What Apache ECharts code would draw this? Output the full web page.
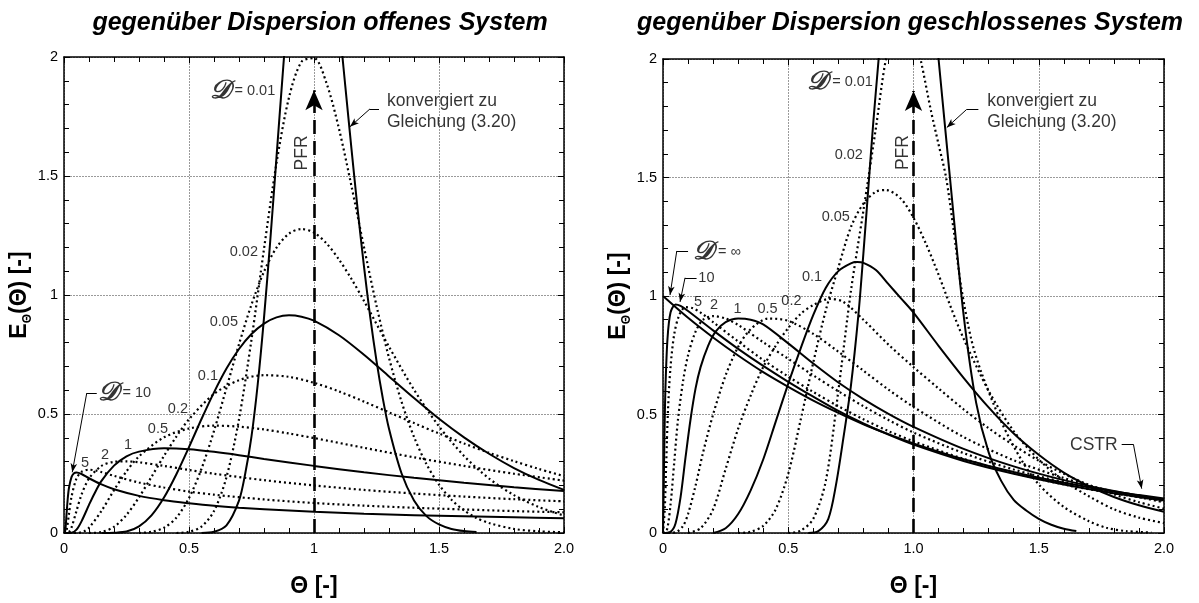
<!DOCTYPE html>
<html><head><meta charset="utf-8">
<script src="https://cdn.jsdelivr.net/npm/echarts@6/dist/echarts.min.js"></script>
<style>html,body{margin:0;padding:0;background:#fff}#c{width:1199px;height:603px}</style>
</head><body><div id="c"></div>
<script>
// ---------- tick labels ----------
const xTickLabelsOpen = ['0', '0.5', '1', '1.5', '2.0'];
const xTickLabelsClosed = ['0', '0.5', '1.0', '1.5', '2.0'];
const yTickLabels = ['0', '0.5', '1', '1.5', '2'];

// ---------- open system curves [theta, E] ----------
const open_D10 = [[0,0],[0.005,0.009],[0.01,0.077],[0.015,0.145],[0.02,0.19],[0.03,0.235],[0.04,0.251],[0.05,0.254],[0.07,0.248],[0.1,0.230],[0.15,0.204],[0.2,0.184],[0.3,0.156],[0.4,0.138],[0.5,0.125],[0.6,0.114],[0.7,0.106],[0.8,0.100],[1.0,0.089],[1.2,0.081],[1.4,0.075],[1.6,0.070],[1.8,0.066],[2.0,0.062]];
const open_D5 = [[0,0],[0.005,0],[0.01,0.009],[0.02,0.081],[0.03,0.152],[0.05,0.229],[0.07,0.257],[0.1,0.266],[0.13,0.262],[0.15,0.256],[0.2,0.240],[0.3,0.212],[0.4,0.191],[0.5,0.174],[0.6,0.161],[0.8,0.141],[1.0,0.126],[1.2,0.115],[1.4,0.106],[1.6,0.099],[1.8,0.092],[2.0,0.087]];
const open_D2 = [[0,0],[0.01,0],[0.02,0.004],[0.03,0.023],[0.05,0.093],[0.07,0.161],[0.1,0.229],[0.15,0.282],[0.2,0.299],[0.25,0.301],[0.3,0.297],[0.4,0.282],[0.5,0.265],[0.6,0.249],[0.8,0.222],[1.0,0.200],[1.2,0.181],[1.4,0.166],[1.6,0.153],[1.8,0.142],[2.0,0.133]];
const open_D1 = [[0,0],[0.03,0.001],[0.05,0.014],[0.07,0.049],[0.1,0.118],[0.12,0.162],[0.15,0.219],[0.2,0.283],[0.25,0.322],[0.3,0.342],[0.4,0.356],[0.5,0.352],[0.6,0.341],[0.7,0.327],[0.8,0.311],[1.0,0.282],[1.2,0.255],[1.4,0.232],[1.6,0.211],[1.8,0.192],[2.0,0.176]];
const open_D05 = [[0,0],[0.05,0],[0.08,0.007],[0.1,0.022],[0.15,0.093],[0.2,0.180],[0.25,0.259],[0.3,0.322],[0.4,0.402],[0.5,0.439],[0.6,0.451],[0.7,0.447],[0.8,0.435],[0.9,0.418],[1.0,0.399],[1.2,0.358],[1.4,0.318],[1.6,0.282],[1.8,0.249],[2.0,0.220]];
const open_D02 = [[0.1,0],[0.15,0.004],[0.2,0.026],[0.25,0.076],[0.3,0.150],[0.35,0.236],[0.4,0.324],[0.45,0.406],[0.5,0.478],[0.6,0.584],[0.7,0.642],[0.8,0.663],[0.9,0.656],[1.0,0.631],[1.1,0.595],[1.2,0.552],[1.3,0.507],[1.4,0.462],[1.5,0.418],[1.6,0.376],[1.7,0.337],[1.8,0.302],[1.9,0.269],[2.0,0.239]];
const open_D01 = [[0.15,0],[0.2,0.001],[0.25,0.006],[0.3,0.028],[0.35,0.074],[0.4,0.149],[0.45,0.248],[0.5,0.361],[0.55,0.479],[0.6,0.591],[0.65,0.691],[0.7,0.773],[0.75,0.836],[0.8,0.880],[0.85,0.906],[0.9,0.915],[0.95,0.909],[1.0,0.892],[1.1,0.831],[1.2,0.749],[1.3,0.658],[1.4,0.567],[1.5,0.480],[1.6,0.402],[1.7,0.333],[1.8,0.273],[1.9,0.223],[2.0,0.181]];
const open_D005 = [[0.3,0],[0.35,0.005],[0.4,0.022],[0.45,0.065],[0.5,0.147],[0.55,0.270],[0.6,0.429],[0.65,0.610],[0.7,0.793],[0.75,0.960],[0.8,1.098],[0.85,1.199],[0.9,1.258],[0.95,1.277],[1.0,1.262],[1.05,1.217],[1.1,1.149],[1.15,1.067],[1.2,0.975],[1.3,0.783],[1.4,0.602],[1.5,0.448],[1.6,0.324],[1.7,0.229],[1.8,0.159],[1.9,0.109],[2.0,0.073]];
const open_D002 = [[0.45,0],[0.5,0.005],[0.55,0.027],[0.6,0.092],[0.65,0.235],[0.7,0.478],[0.75,0.813],[0.8,1.194],[0.85,1.554],[0.9,1.830],[0.95,1.980],[1.0,1.995],[1.05,1.890],[1.1,1.698],[1.15,1.457],[1.2,1.201],[1.25,0.955],[1.3,0.736],[1.35,0.552],[1.4,0.404],[1.45,0.289],[1.5,0.203],[1.55,0.140],[1.6,0.095],[1.65,0.063],[1.7,0.042],[1.8,0.017],[1.9,0.007],[2.0,0.003]];
const open_D001 = [[0.55,0],[0.6,0.005],[0.65,0.032],[0.7,0.136],[0.725,0.25],[0.75,0.406],[0.775,0.626],[0.8,0.904],[0.825,1.228],[0.85,1.579],[0.875,1.93],[0.9,2.253],[0.95,2.71],[1.0,2.821],[1.05,2.593],[1.1,2.143],[1.125,1.880],[1.15,1.613],[1.175,1.356],[1.2,1.119],[1.225,0.907],[1.25,0.723],[1.275,0.567],[1.3,0.438],[1.35,0.251],[1.4,0.137],[1.45,0.071],[1.5,0.036],[1.55,0.017],[1.6,0.008],[1.65,0.004]];

// ---------- closed system curves [theta, E] ----------
const closed_Dinf = [[0,1.0],[0.1,0.908],[0.2,0.825],[0.3,0.749],[0.4,0.679],[0.5,0.617],[0.6,0.559],[0.7,0.507],[0.8,0.459],[0.9,0.417],[1.0,0.378],[1.1,0.343],[1.2,0.311],[1.3,0.283],[1.4,0.257],[1.5,0.233],[1.6,0.212],[1.7,0.193],[1.8,0.175],[1.9,0.16],[2.0,0.146]];
const closed_D10 = [[0,0],[0.003,0.2],[0.006,0.42],[0.01,0.62],[0.018,0.82],[0.03,0.93],[0.05,0.964],[0.07,0.958],[0.1,0.937],[0.2,0.855],[0.3,0.777],[0.4,0.705],[0.5,0.638],[0.6,0.575],[0.7,0.515],[0.8,0.462],[0.9,0.415],[1.0,0.373],[1.2,0.304],[1.4,0.25],[1.6,0.205],[1.8,0.168],[2.0,0.138]];
const closed_D5 = [[0,0],[0.007,0.1],[0.013,0.3],[0.02,0.52],[0.03,0.7],[0.045,0.84],[0.065,0.92],[0.09,0.953],[0.12,0.948],[0.15,0.93],[0.2,0.89],[0.3,0.808],[0.4,0.73],[0.5,0.66],[0.6,0.595],[0.7,0.535],[0.8,0.48],[0.9,0.43],[1.0,0.387],[1.2,0.313],[1.4,0.253],[1.6,0.205],[1.8,0.167],[2.0,0.137]];
const closed_D2 = [[0,0],[0.015,0.01],[0.03,0.12],[0.045,0.3],[0.06,0.48],[0.08,0.64],[0.1,0.75],[0.13,0.85],[0.16,0.9],[0.2,0.915],[0.25,0.905],[0.3,0.878],[0.4,0.805],[0.5,0.735],[0.6,0.665],[0.7,0.598],[0.8,0.535],[0.9,0.477],[1.0,0.424],[1.2,0.337],[1.4,0.268],[1.6,0.214],[1.8,0.171],[2.0,0.137]];
const closed_D1 = [[0,0],[0.03,0.005],[0.05,0.04],[0.07,0.15],[0.09,0.32],[0.11,0.48],[0.13,0.61],[0.15,0.7],[0.18,0.79],[0.21,0.85],[0.25,0.89],[0.3,0.905],[0.35,0.9],[0.4,0.88],[0.5,0.8],[0.6,0.715],[0.7,0.635],[0.8,0.565],[0.9,0.503],[1.0,0.448],[1.2,0.355],[1.4,0.281],[1.6,0.223],[1.8,0.177],[2.0,0.14]];
const closed_D05 = [[0,0],[0.05,0.003],[0.08,0.03],[0.1,0.08],[0.13,0.2],[0.16,0.34],[0.2,0.5],[0.25,0.665],[0.3,0.785],[0.35,0.86],[0.42,0.905],[0.5,0.895],[0.6,0.84],[0.7,0.765],[0.8,0.685],[0.9,0.605],[1.0,0.532],[1.2,0.405],[1.4,0.307],[1.6,0.232],[1.8,0.174],[2.0,0.13]];
const closed_D02 = [[0.1,0],[0.15,0.02],[0.2,0.1],[0.25,0.27],[0.3,0.44],[0.35,0.58],[0.4,0.7],[0.45,0.79],[0.5,0.865],[0.55,0.925],[0.6,0.962],[0.667,0.988],[0.72,0.975],[0.8,0.9],[0.9,0.795],[1.0,0.7],[1.1,0.61],[1.2,0.522],[1.3,0.442],[1.4,0.37],[1.5,0.305],[1.6,0.25],[1.7,0.203],[1.8,0.163],[1.9,0.13],[2.0,0.103]];
const closed_D01 = [[0.2,0],[0.25,0.02],[0.3,0.08],[0.35,0.18],[0.4,0.31],[0.45,0.47],[0.5,0.63],[0.55,0.78],[0.6,0.92],[0.65,1.035],[0.7,1.105],[0.75,1.138],[0.775,1.143],[0.8,1.14],[0.85,1.11],[0.9,1.05],[0.95,0.99],[1.0,0.93],[1.1,0.79],[1.2,0.655],[1.3,0.53],[1.4,0.42],[1.5,0.33],[1.6,0.255],[1.7,0.198],[1.8,0.152],[1.9,0.117],[2.0,0.09]];
const closed_D005 = [[0.3,0],[0.35,0.005],[0.4,0.03],[0.45,0.1],[0.5,0.25],[0.55,0.48],[0.6,0.72],[0.65,0.94],[0.7,1.12],[0.75,1.29],[0.8,1.39],[0.85,1.44],[0.89,1.447],[0.95,1.41],[1.0,1.33],[1.05,1.22],[1.1,1.09],[1.15,0.95],[1.2,0.82],[1.3,0.6],[1.4,0.43],[1.5,0.31],[1.6,0.22],[1.7,0.155],[1.8,0.1],[1.9,0.065],[2.0,0.042]];
const closed_D002 = [[0.5,0],[0.55,0.01],[0.6,0.06],[0.65,0.22],[0.7,0.6],[0.75,1.02],[0.8,1.36],[0.85,1.71],[0.89,2.0],[0.93,2.15],[0.96,2.17],[1.0,2.12],[1.03,1.99],[1.07,1.78],[1.1,1.64],[1.13,1.5],[1.16,1.28],[1.19,1.04],[1.23,0.82],[1.27,0.68],[1.35,0.47],[1.43,0.31],[1.5,0.205],[1.6,0.11],[1.7,0.05],[1.77,0.022],[1.85,0.008],[1.95,0.002]];
const closed_D001 = [[0.58,0],[0.62,0.008],[0.66,0.06],[0.69,0.2],[0.72,0.4],[0.75,0.62],[0.78,0.92],[0.8,1.18],[0.82,1.46],[0.84,1.74],[0.86,1.99],[0.9,2.5],[0.95,2.82],[1.0,2.86],[1.05,2.55],[1.1,2.0],[1.15,1.45],[1.2,0.92],[1.25,0.55],[1.3,0.34],[1.35,0.22],[1.4,0.14],[1.45,0.095],[1.5,0.06],[1.55,0.035],[1.6,0.018],[1.65,0.008]];

// PFR marker value
const pfrTheta = 1;
const pfrArrowTop = [1.86, 1.865];

// curve list (style: solid or dotted)
const openCurves = [
  [open_D001,'solid'],[open_D002,'dot'],[open_D005,'dot'],[open_D01,'solid'],[open_D02,'dot'],
  [open_D05,'dot'],[open_D1,'solid'],[open_D2,'dot'],[open_D5,'dot'],[open_D10,'solid']
];
const closedCurves = [
  [closed_D001,'solid'],[closed_D002,'dot'],[closed_D005,'dot'],[closed_D01,'solid'],[closed_D02,'dot'],
  [closed_D05,'dot'],[closed_D1,'solid'],[closed_D2,'dot'],[closed_D5,'dot'],[closed_D10,'solid'],[closed_Dinf,'solid']
];

// annotations: [theta, E, text, align, rotate]
const annotOpen = [
  [0.845, 1.856, '{d|𝒟}{t| = 0.01}', 'right'],
  [0.776, 1.181, '0.02', 'right'],
  [0.696, 0.885, '0.05', 'right'],
  [0.616, 0.658, '0.1', 'right'],
  [0.496, 0.523, '0.2', 'right'],
  [0.416, 0.436, '0.5', 'right'],
  [0.256, 0.370, '1', 'center'],
  [0.164, 0.329, '2', 'center'],
  [0.084, 0.296, '5', 'center'],
  [0.134, 0.588, '{d|𝒟}{t| = 10}', 'left'],
  [1.292, 1.815, 'konvergiert zu', 'left'],
  [1.292, 1.728, 'Gleichung (3.20)', 'left'],
  [0.952, 1.597, 'PFR', 'center', 90]
];
const annotClosed = [
  [0.838, 1.901, '{d|𝒟}{t| = 0.01}', 'right'],
  [0.798, 1.593, '0.02', 'right'],
  [0.746, 1.333, '0.05', 'right'],
  [0.635, 1.082, '0.1', 'right'],
  [0.553, 0.981, '0.2', 'right'],
  [0.417, 0.947, '0.5', 'center'],
  [0.298, 0.947, '1', 'center'],
  [0.204, 0.960, '2', 'center'],
  [0.140, 0.974, '5', 'center'],
  [0.120, 1.186, '{d|𝒟}{t| = ∞}', 'left'],
  [0.141, 1.077, '10', 'left'],
  [1.294, 1.824, 'konvergiert zu', 'left'],
  [1.294, 1.735, 'Gleichung (3.20)', 'left'],
  [1.625, 0.370, 'CSTR', 'left'],
  [0.958, 1.605, 'PFR', 'center', 90]
];
// pointer polylines: [[x1,y1],[x2,y2],[x3,y3]] - last segment carries arrow
const pointersOpen = [
  [[0.131,0.588],[0.091,0.588],[0.033,0.255]],
  [[1.26,1.782],[1.224,1.782],[1.144,1.707]]
];
const pointersClosed = [
  [[0.1,1.19],[0.055,1.19],[0.028,1.004]],
  [[0.134,1.077],[0.088,1.077],[0.068,0.975]],
  [[1.259,1.787],[1.212,1.787],[1.133,1.711]],
  [[1.831,0.374],[1.878,0.374],[1.911,0.187]]
];

const FONT = 'Liberation Sans';
const richD = {
  d: {fontFamily: 'DejaVu Serif', fontStyle: 'italic', fontWeight: 'bold', fontSize: 26, color: '#000'},
  t: {fontFamily: FONT, fontSize: 14.5, color: '#000'}
};
const bigTexts = ['PFR', 'konvergiert zu', 'Gleichung (3.20)', 'CSTR'];

function curveSeries(list, gi) {
  return list.map(([data, style]) => ({
    type: 'line', xAxisIndex: gi * 2, yAxisIndex: gi * 2, data: data,
    showSymbol: false, symbol: 'none', smooth: 0.3, clip: true, silent: true,
    lineStyle: style === 'dot'
      ? {color: '#000', width: 2.2, type: [2, 3]}
      : {color: '#000', width: 2, type: 'solid'},
    z: 3
  }));
}
function annotSeries(list, gi) {
  return {
    type: 'scatter', xAxisIndex: gi * 2, yAxisIndex: gi * 2, symbolSize: 0, silent: true, z: 5,
    data: list.map(a => ({
      value: [a[0], a[1]],
      label: {
        show: true, position: [0, 0], formatter: a[2], align: a[3], verticalAlign: 'middle',
        rotate: a[4] || 0, fontFamily: FONT,
        fontSize: bigTexts.indexOf(a[2]) >= 0 ? 17.5 : 14.5,
        color: '#000', rich: richD
      }
    }))
  };
}
function pointerSeries(list, gi) {
  const md = [];
  list.forEach(p => {
    md.push([{coord: p[0], symbol: 'none'}, {coord: p[1], symbol: 'none'}]);
    md.push([{coord: p[1], symbol: 'none'}, {coord: p[2], symbol: 'arrow', symbolSize: [5, 9]}]);
  });
  return {
    type: 'line', xAxisIndex: gi * 2, yAxisIndex: gi * 2, data: [], silent: true, z: 4,
    markLine: {silent: true, animation: false, label: {show: false}, lineStyle: {color: '#000', width: 1, type: 'solid'}, data: md}
  };
}
function pfrSeries(gi) {
  return {
    type: 'line', xAxisIndex: gi * 2, yAxisIndex: gi * 2, data: [], silent: true, z: 4,
    markLine: {
      silent: true, animation: false, label: {show: false},
      lineStyle: {color: '#000', width: 2.6, type: [14, 7]},
      data: [[{coord: [pfrTheta, 0], symbol: 'none'}, {coord: [pfrTheta, pfrArrowTop[gi]], symbol: 'arrow', symbolSize: [13, 20]}]]
    }
  };
}

function xAxes(gi, labels) {
  const base = {
    type: 'value', gridIndex: gi, min: 0, max: 2, interval: 0.5,
    axisLine: {show: true, onZero: false, lineStyle: {color: '#000', width: 1.5}},
    axisTick: {show: true, inside: true, length: 6, lineStyle: {color: '#000', width: 1}},
    minorTick: {show: true, splitNumber: 5, length: 5, lineStyle: {color: '#000', width: 1}},
    splitLine: {show: false}
  };
  return [
    Object.assign({}, base, {
      position: 'bottom',
      axisLabel: {show: true, margin: 8, fontFamily: FONT, fontSize: 14.5, color: '#000',
        formatter: v => labels[Math.round(v / 0.5)]},
      splitLine: {show: true, lineStyle: {color: '#9a9a9a', width: 1, type: [2, 1]}},
      name: 'Θ [-]', nameLocation: 'middle', nameGap: 42,
      nameTextStyle: {fontFamily: FONT, fontWeight: 'bold', fontSize: 23, color: '#000'}
    }),
    Object.assign({}, base, {position: 'top', axisLabel: {show: false}})
  ];
}
function yAxes(gi) {
  const base = {
    type: 'value', gridIndex: gi, min: 0, max: 2, interval: 0.5,
    axisLine: {show: true, onZero: false, lineStyle: {color: '#000', width: 1.5}},
    axisTick: {show: true, inside: true, length: 6, lineStyle: {color: '#000', width: 1}},
    minorTick: {show: true, splitNumber: 5, length: 5, lineStyle: {color: '#000', width: 1}},
    splitLine: {show: false}
  };
  return [
    Object.assign({}, base, {
      position: 'left',
      axisLabel: {show: true, margin: 6, fontFamily: FONT, fontSize: 14.5, color: '#000',
        formatter: v => yTickLabels[Math.round(v / 0.5)]},
      splitLine: {show: true, lineStyle: {color: '#9a9a9a', width: 1, type: [2, 1]}},
      name: '{b|E}{s|Θ}{b|(Θ) [-]}', nameLocation: 'middle', nameGap: 27,
      nameTextStyle: {
        rich: {
          b: {fontFamily: FONT, fontWeight: 'bold', fontSize: 23, color: '#000', lineHeight: 28, verticalAlign: 'middle'},
          s: {fontFamily: FONT, fontWeight: 'bold', fontSize: 12, color: '#000', lineHeight: 12, verticalAlign: 'bottom'}
        }
      }
    }),
    Object.assign({}, base, {position: 'right', axisLabel: {show: false}})
  ];
}

const chart = echarts.init(document.getElementById('c'), null, {renderer: 'canvas'});
chart.setOption({
  animation: false,
  backgroundColor: '#fff',
  title: [
    {text: 'gegenüber Dispersion offenes System', left: 315, top: 6, textAlign: 'center',
      textStyle: {fontFamily: FONT, fontStyle: 'italic', fontWeight: 'bold', fontSize: 25, color: '#000'}},
    {text: 'gegenüber Dispersion geschlossenes System', left: 905, top: 6, textAlign: 'center',
      textStyle: {fontFamily: FONT, fontStyle: 'italic', fontWeight: 'bold', fontSize: 25, color: '#000'}}
  ],
  grid: [
    {left: 64, top: 57, width: 500, height: 486},
    {left: 663, top: 59, width: 501, height: 486}
  ],
  xAxis: [...xAxes(0, xTickLabelsOpen), ...xAxes(1, xTickLabelsClosed)],
  yAxis: [...yAxes(0), ...yAxes(1)],
  series: [
    ...curveSeries(openCurves, 0),
    ...curveSeries(closedCurves, 1),
    annotSeries(annotOpen, 0),
    annotSeries(annotClosed, 1),
    pointerSeries(pointersOpen, 0),
    pointerSeries(pointersClosed, 1),
    pfrSeries(0),
    pfrSeries(1)
  ]
});
</script>
</body></html>
